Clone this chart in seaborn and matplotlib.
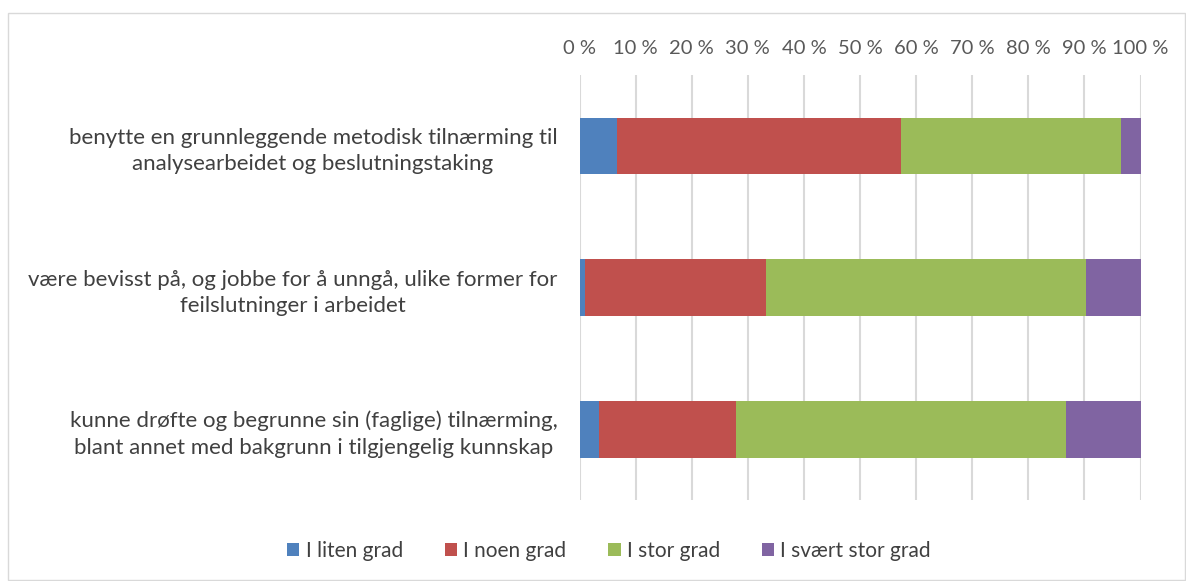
import matplotlib
matplotlib.use("Agg")
import matplotlib.pyplot as plt
import seaborn as sns
import pandas as pd
import numpy as np
from matplotlib.patches import Rectangle, Patch

categories = [
    "benytte en grunnleggende metodisk tilnærming til\nanalysearbeidet og beslutningstaking",
    "være bevisst på, og jobbe for å unngå, ulike former for\nfeilslutninger i arbeidet",
    "kunne drøfte og begrunne sin (faglige) tilnærming,\nblant annet med bakgrunn i tilgjengelig kunnskap",
]
series_names = ["I liten grad", "I noen grad", "I stor grad", "I svært stor grad"]
liten = [6.7, 0.9, 3.4]
noen = [50.6, 32.3, 24.5]
stor = [39.3, 57.1, 58.9]
svaert = [3.4, 9.7, 13.2]
tick_labels = ["0 %", "10 %", "20 %", "30 %", "40 %", "50 %", "60 %", "70 %", "80 %", "90 %", "100 %"]

colors = ["#4F81BD", "#C0504D", "#9BBB59", "#8064A2"]

sns.set_theme(style="white")
plt.rcParams["font.family"] = ["Lato", "DejaVu Sans"]

df = pd.DataFrame({"cat": categories, series_names[0]: liten, series_names[1]: noen,
                   series_names[2]: stor, series_names[3]: svaert})
vals = df[series_names].to_numpy()
cum = np.cumsum(vals, axis=1)
for i, name in enumerate(series_names):
    df["cum_" + name] = cum[:, i]

fig = plt.figure(figsize=(11.86, 5.81), dpi=100)
ax = fig.add_axes([579.5 / 1186, 1 - 500 / 581, (1140.5 - 579.5) / 1186, 425 / 581])

for i in range(len(series_names) - 1, -1, -1):
    sns.barplot(data=df, y="cat", x="cum_" + series_names[i], orient="h",
                color=colors[i], saturation=1, width=0.4, ax=ax, zorder=3,
                edgecolor="none", linewidth=0)

ax.set_xlim(0, 100)
ax.set_xticks(np.arange(0, 101, 10))
ax.set_xticklabels(tick_labels)
ax.xaxis.tick_top()
ax.tick_params(axis="x", length=0, pad=13, labelsize=14.5, colors="#595959")
ax.tick_params(axis="y", length=0, pad=16, labelsize=16, colors="#404040")
for lbl in ax.get_yticklabels():
    lbl.set_multialignment("center")
    lbl.set_linespacing(1.4)
ax.set_xlabel("")
ax.set_ylabel("")
ax.grid(axis="x", color="#D9D9D9", linewidth=1.5, zorder=0)
ax.grid(axis="y", visible=False)
for s in ax.spines.values():
    s.set_visible(False)

handles = [Patch(facecolor=c, edgecolor="none") for c in colors]
fig.legend(handles, series_names, loc="center", bbox_to_anchor=(609 / 1186, 1 - 551 / 581),
           ncol=4, frameon=False, fontsize=15, handlelength=0.6, handleheight=0.6,
           handletextpad=0.3, columnspacing=2.0, labelcolor="#404040")

fig.patches.append(Rectangle((8 / 1186, 0.002), 1 - 9 / 1186, 1 - 14 / 581, transform=fig.transFigure,
                             fill=False, edgecolor="#D9D9D9", linewidth=1))

fig.savefig("out.png", dpi=100)
